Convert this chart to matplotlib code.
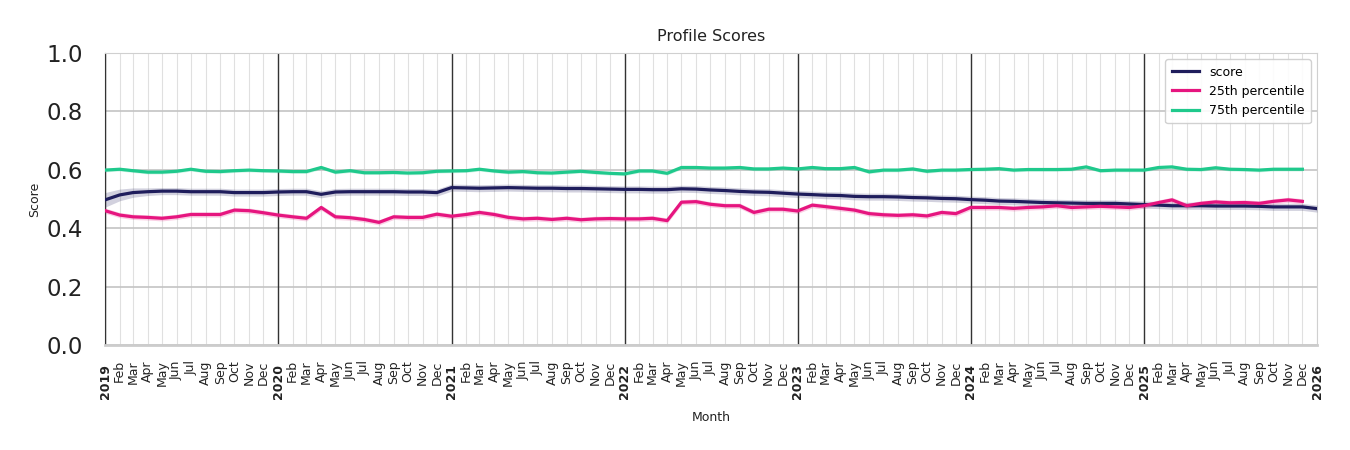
import matplotlib
matplotlib.use("Agg")
import matplotlib.pyplot as plt
import matplotlib.dates as mdates
import numpy as np
import pandas as pd

# monthly values
score = [
    0.497, 0.514, 0.522, 0.525, 0.527, 0.527, 0.525, 0.525, 0.525, 0.522, 0.522, 0.522,
    0.524, 0.525, 0.525, 0.516, 0.524, 0.525, 0.525, 0.525, 0.525, 0.524, 0.524, 0.522,
    0.539, 0.538, 0.537, 0.538, 0.539, 0.538, 0.537, 0.537, 0.536, 0.536, 0.535, 0.534,
    0.533, 0.533, 0.532, 0.532, 0.535, 0.534, 0.531, 0.529, 0.526, 0.524, 0.523, 0.520,
    0.517, 0.515, 0.513, 0.512, 0.509, 0.508, 0.508, 0.507, 0.505, 0.504, 0.502, 0.501,
    0.498, 0.496, 0.493, 0.492, 0.490, 0.488, 0.487, 0.486, 0.485, 0.485, 0.485, 0.483,
    0.481, 0.479, 0.477, 0.477, 0.477, 0.476, 0.476, 0.476, 0.475, 0.473, 0.473, 0.473,
    0.467,
]
p25 = [
    0.460, 0.445, 0.439, 0.437, 0.434, 0.439, 0.447, 0.447, 0.447, 0.462, 0.460, 0.453,
    0.445, 0.439, 0.434, 0.471, 0.439, 0.436, 0.430, 0.420, 0.439, 0.437, 0.437, 0.448,
    0.441, 0.447, 0.454, 0.447, 0.437, 0.432, 0.434, 0.430, 0.434, 0.429, 0.432, 0.433,
    0.432, 0.432, 0.434, 0.426, 0.489, 0.491, 0.482, 0.477, 0.477, 0.454, 0.465, 0.465,
    0.459, 0.479, 0.474, 0.468, 0.462, 0.450, 0.446, 0.444, 0.446, 0.442, 0.454, 0.450,
    0.471, 0.471, 0.471, 0.468, 0.471, 0.473, 0.477, 0.471, 0.473, 0.475, 0.473, 0.471,
    0.477, 0.488, 0.497, 0.477, 0.485, 0.490, 0.487, 0.488, 0.485, 0.492, 0.497, 0.492,
]
p75 = [
    0.599, 0.602, 0.597, 0.592, 0.592, 0.595, 0.602, 0.595, 0.594, 0.597, 0.599, 0.597,
    0.596, 0.594, 0.594, 0.608, 0.592, 0.597, 0.590, 0.590, 0.591, 0.589, 0.590, 0.595,
    0.596, 0.597, 0.602, 0.596, 0.592, 0.594, 0.590, 0.589, 0.592, 0.595, 0.591, 0.588,
    0.586, 0.596, 0.596, 0.588, 0.608, 0.608, 0.606, 0.606, 0.608, 0.603, 0.603, 0.606,
    0.603, 0.608, 0.604, 0.604, 0.608, 0.593, 0.599, 0.599, 0.603, 0.595, 0.599, 0.599,
    0.601, 0.602, 0.604, 0.599, 0.601, 0.601, 0.601, 0.602, 0.610, 0.597, 0.599, 0.599,
    0.599, 0.608, 0.610, 0.602, 0.601, 0.607, 0.602, 0.601, 0.599, 0.602, 0.602, 0.602,
]

# half-width of the shaded bands
score_ci_start = [0.025, 0.02, 0.016, 0.013]
score_ci = 0.012
p25_ci = 0.009
p75_ci = 0.006

series_names = ["score", "25th percentile", "75th percentile"]
series_colors = ["#1f1d5c", "#e6157f", "#1fc98c"]

months_score = pd.date_range("2019-01-01", periods=len(score), freq="MS")
months_pct = pd.date_range("2019-01-01", periods=len(p25), freq="MS")

ci_score = np.full(len(score), score_ci)
ci_score[:len(score_ci_start)] = score_ci_start

fig = plt.figure(figsize=(13.5, 4.5), dpi=100)
ax = fig.add_axes([0.0778, 0.2333, 0.8978, 0.6489])

data = [
    (months_score, np.array(score), ci_score),
    (months_pct, np.array(p25), np.full(len(p25), p25_ci)),
    (months_pct, np.array(p75), np.full(len(p75), p75_ci)),
]
for (x, y, ci), name, col in zip(data, series_names, series_colors):
    ax.fill_between(x, y - ci, y + ci, color=col, alpha=0.2, lw=0, zorder=3)
    ax.plot(x, y, color=col, lw=2.3, label=name, zorder=4)

# year separators
for yr in range(2019, 2026):
    ax.axvline(pd.Timestamp(f"{yr}-01-01"), color="#333333", lw=1, zorder=2)

ax.set_xlim(pd.Timestamp("2019-01-01"), pd.Timestamp("2026-01-01"))
ax.set_ylim(0, 1)
ax.set_yticks(np.arange(0, 1.01, 0.2))
ax.set_yticklabels([f"{v:.1f}" for v in np.arange(0, 1.01, 0.2)], fontsize=16.5, color="#222222")

ax.xaxis.set_major_locator(mdates.YearLocator())
ax.xaxis.set_major_formatter(mdates.DateFormatter("%Y"))
ax.xaxis.set_minor_locator(mdates.MonthLocator(bymonth=range(2, 13)))
ax.xaxis.set_minor_formatter(mdates.DateFormatter("%b"))
for lab in ax.get_xticklabels(which="major"):
    lab.set_rotation(90)
    lab.set_fontweight("bold")
    lab.set_fontsize(9)
for lab in ax.get_xticklabels(which="minor"):
    lab.set_rotation(90)
    lab.set_fontsize(9)
ax.tick_params(axis="x", which="major", length=0, pad=14, colors="#222222")
ax.tick_params(axis="x", which="minor", length=0, pad=11, colors="#222222")
ax.tick_params(axis="y", length=0, pad=16)

ax.grid(True, axis="y", color="#c4c4c4", lw=1.2, zorder=1)
ax.grid(True, axis="x", which="both", color="#e0e0e0", lw=0.8, zorder=1)
ax.set_axisbelow(True)

for side in ["top", "right"]:
    ax.spines[side].set_color("#d0d0d0")
ax.spines["bottom"].set_color("#cccccc")
ax.spines["bottom"].set_linewidth(2)
ax.spines["left"].set_color("#333333")

ax.set_title("Profile Scores", fontsize=11.5, color="#222222", pad=9)
ax.set_xlabel("Month", fontsize=9, color="#222222", labelpad=8)
ax.set_ylabel("Score", fontsize=9, color="#222222")

ax.legend(loc="upper right", fontsize=9, frameon=True, framealpha=0.9,
          edgecolor="#cccccc", handlelength=2.2, borderpad=0.5)

fig.savefig("out.png", dpi=100)
plt.close(fig)
